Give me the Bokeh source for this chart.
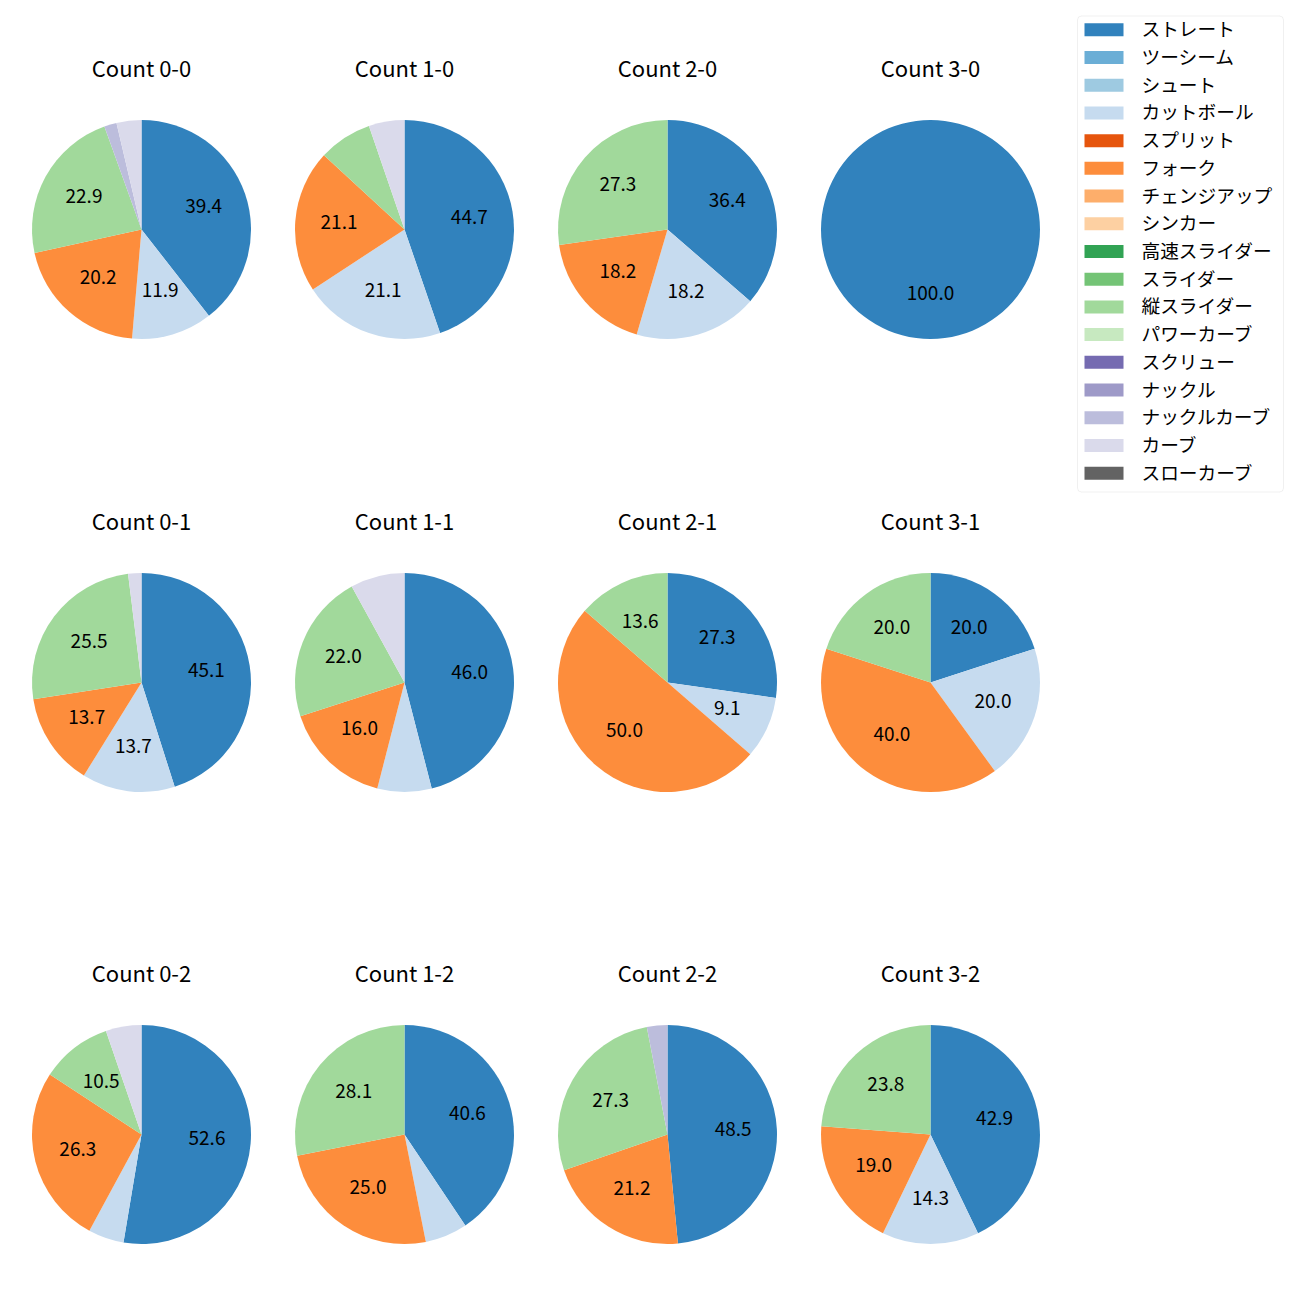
from bokeh.plotting import figure
from bokeh.models import Range1d, ColumnDataSource, BoxAnnotation
from bokeh.core.properties import value
from bokeh.embed import file_html
from bokeh.resources import INLINE
import math

# ---- data ----
pitch_types = ["ストレート", "ツーシーム", "シュート", "カットボール", "スプリット", "フォーク",
               "チェンジアップ", "シンカー", "高速スライダー", "スライダー", "縦スライダー",
               "パワーカーブ", "スクリュー", "ナックル", "ナックルカーブ", "カーブ", "スローカーブ"]
colors = ["#3182bd", "#6baed6", "#9ecae1", "#c6dbef", "#e6550d", "#fd8d3c", "#fdae6b", "#fdd0a2",
          "#31a354", "#74c476", "#a1d99b", "#c7e9c0", "#756bb1", "#9e9ac8", "#bcbddc", "#dadaeb",
          "#636363"]

count_labels = ["Count 0-0", "Count 1-0", "Count 2-0", "Count 3-0",
                "Count 0-1", "Count 1-1", "Count 2-1", "Count 3-1",
                "Count 0-2", "Count 1-2", "Count 2-2", "Count 3-2"]

# pitches per count (same order as count_labels)
straight     = [43, 17, 4, 1, 23, 23, 6, 1, 10, 13, 16, 9]
two_seam     = [0] * 12
shoot        = [0] * 12
cutball      = [13, 8, 2, 0, 7, 4, 2, 1, 1, 2, 0, 3]
split        = [0] * 12
fork         = [22, 8, 2, 0, 7, 8, 11, 2, 5, 8, 7, 4]
changeup     = [0] * 12
sinker       = [0] * 12
fast_slider  = [0] * 12
slider       = [0] * 12
vert_slider  = [25, 3, 3, 0, 13, 11, 3, 1, 2, 9, 9, 5]
power_curve  = [0] * 12
screw        = [0] * 12
knuckle      = [0] * 12
knuckle_curve = [2, 0, 0, 0, 0, 0, 0, 0, 0, 0, 1, 0]
curve        = [4, 2, 0, 0, 1, 4, 0, 0, 1, 0, 0, 0]
slow_curve   = [0] * 12

series = [straight, two_seam, shoot, cutball, split, fork, changeup, sinker,
          fast_slider, slider, vert_slider, power_curve, screw, knuckle,
          knuckle_curve, curve, slow_curve]

# ---- layout (reference pixel space, y measured from top) ----
H = 1300
col_x = [141, 404, 667, 930]
row_y = [229, 682, 1134]
R = 109.5
title_off = 163
label_shift = 2
FONT = "Noto Sans CJK JP"

p = figure(width=1284, height=1284, output_backend="svg", toolbar_location=None,
           x_range=Range1d(0, 1284), y_range=Range1d(16, 1300),
           x_axis_location=None, y_axis_location=None, min_border=0)
p.grid.visible = False
p.outline_line_color = None
p.background_fill_color = "white"

wx, wy, ws, we, wc = [], [], [], [], []
lx, ly, lt = [], [], []
tx, ty, tt = [], [], []
for k, lab in enumerate(count_labels):
    cx = col_x[k % 4]
    cy = H - row_y[k // 4]
    vals = [s[k] for s in series]
    total = sum(vals)
    cum = 0.0
    for i, v in enumerate(vals):
        if v <= 0:
            continue
        f0 = cum / total
        cum += v
        f1 = cum / total
        a_end = 90 - 360 * f0
        a_start = 90 - 360 * f1
        if f1 - f0 > 0.9999:
            a_start += 0.01  # full circle
        wx.append(cx); wy.append(cy)
        ws.append(a_start); we.append(a_end)
        wc.append(colors[i])
        pct = 100.0 * v / total
        if pct >= 9:
            mid = math.radians(90 - 360 * (f0 + f1) / 2)
            lx.append(cx + 0.6 * R * math.cos(mid))
            ly.append(cy + 0.6 * R * math.sin(mid) + label_shift)
            lt.append(f"{pct:.1f}")
    tx.append(cx); ty.append(cy + title_off); tt.append(lab)

p.wedge(x="x", y="y", radius=R, start_angle="s", end_angle="e", start_angle_units="deg",
        end_angle_units="deg", direction="anticlock", fill_color="c", line_color=None,
        source=ColumnDataSource(dict(x=wx, y=wy, s=ws, e=we, c=wc)))
p.text(x=lx, y=ly, text=lt, text_font=value(FONT), text_font_size="19px",
       text_align="center", text_baseline="middle", text_color="black")
p.text(x=tx, y=ty, text=tt, text_font=value(FONT), text_font_size="22px",
       text_align="center", text_baseline="middle", text_color="black")

# ---- legend ----
leg_box = BoxAnnotation(left=1077, right=1283, top=H - 15.5, bottom=H - 491.5,
                        fill_color="white", fill_alpha=0.8, line_color="#cccccc",
                        line_width=1, border_radius=4, level="underlay")
p.add_layout(leg_box)
pitch_y = [H - (29.3 + i * 27.71) for i in range(len(pitch_types))]
p.quad(left=1084, right=1123, top=[y + 6.5 for y in pitch_y], bottom=[y - 6.5 for y in pitch_y],
       fill_color=colors, line_color=None)
p.text(x=[1141] * len(pitch_types), y=[y + 2 for y in pitch_y], text=pitch_types,
       text_font=value(FONT), text_font_size="18.7px", text_align="left",
       text_baseline="middle", text_color="black")

open("out.html", "w").write(file_html(p, INLINE))
